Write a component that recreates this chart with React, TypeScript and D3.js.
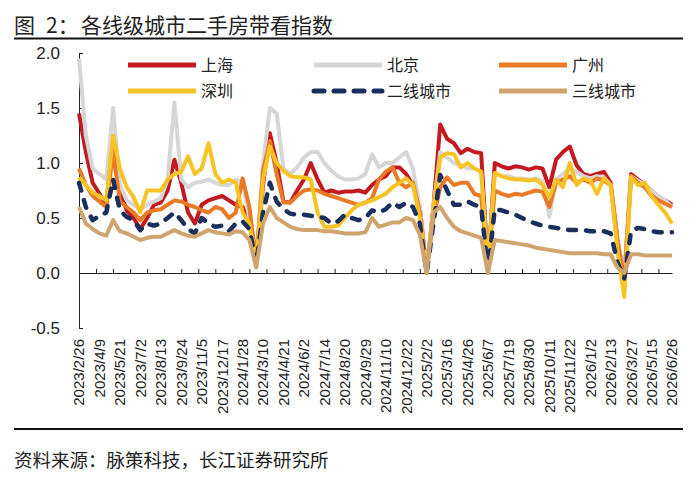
import React, { useRef, useEffect } from "react";
import * as d3 from "d3";

const tickLabels = [
  "2023/2/26", "2023/4/9", "2023/5/21", "2023/7/2", "2023/8/13", "2023/9/24",
  "2023/11/5", "2023/12/17", "2024/1/28", "2024/3/10", "2024/4/21", "2024/6/2",
  "2024/7/14", "2024/8/20", "2024/9/29", "2024/11/10", "2024/12/22", "2025/2/2",
  "2025/3/16", "2025/4/26", "2025/6/7", "2025/7/19", "2025/8/30", "2025/10/11",
  "2025/11/22", "2026/1/2", "2026/2/13", "2026/3/27", "2026/5/15", "2026/6/26",
];

const yTicks = [-0.5, 0, 0.5, 1.0, 1.5, 2.0];

const shanghai = [
  1.45, 1.1, 0.82, 0.72, 0.62, 1.2, 0.75, 0.57, 0.5, 0.4,
  0.5, 0.62, 0.64, 0.75, 1.03, 0.82, 0.55, 0.45, 0.62, 0.66,
  0.68, 0.7, 0.66, 0.62, 0.6, 0.45, 0.12, 0.8, 1.27, 1.0,
  0.65, 0.64, 0.75, 0.85, 1.0, 0.85, 0.73, 0.75, 0.73, 0.74,
  0.74, 0.75, 0.73, 0.8, 0.85, 0.88, 0.96, 0.96, 0.9, 0.8,
  0.6, 0.02, 0.6, 1.35, 1.22, 1.18, 1.09, 1.13, 1.1, 1.09,
  0.05, 1.0, 0.97, 0.95, 0.97, 0.96, 0.94, 0.96, 0.95, 0.78,
  1.03, 1.1, 1.15, 0.98, 0.9, 0.88, 0.9, 0.92, 0.82, 0.3,
  -0.05, 0.9, 0.85, 0.8, 0.75, 0.68, 0.66, 0.62,
];

const beijing = [
  1.95, 1.25, 0.95, 0.9, 0.85, 1.5, 0.8, 0.66, 0.62, 0.58,
  0.62, 0.65, 0.68, 0.85, 1.55, 0.85, 0.78, 0.82, 0.83, 0.85,
  0.82, 0.8, 0.8, 0.85, 0.82, 0.5, 0.1, 1.0, 1.5, 1.45,
  0.95, 0.9, 0.96, 1.05, 1.1, 1.1, 1.0, 0.93, 0.88, 0.85,
  0.85, 0.86, 0.9, 1.08, 0.96, 1.0, 1.0, 1.05, 1.1, 0.95,
  0.6, 0.02, 0.6, 1.1, 1.05, 1.0, 0.98, 0.95, 0.95, 0.92,
  0.05, 0.9, 0.88, 0.88, 0.86, 0.86, 0.85, 0.86, 0.84, 0.51,
  0.85, 0.9, 0.95, 0.92, 0.88, 0.86, 0.88, 0.87, 0.8, 0.3,
  -0.02, 0.88, 0.84, 0.8, 0.75, 0.7, 0.66, 0.6,
];

const guangzhou = [
  0.95, 0.8, 0.7, 0.65, 0.6, 1.1, 0.65, 0.6, 0.55, 0.48,
  0.55, 0.57, 0.58, 0.62, 0.66, 0.65, 0.62, 0.6, 0.57, 0.55,
  0.6, 0.58, 0.5, 0.55, 0.86, 0.6, 0.1, 0.93, 1.2, 0.9,
  0.64, 0.64, 0.7, 0.75, 0.76, 0.75, 0.72, 0.7, 0.68, 0.66,
  0.64, 0.62, 0.64, 0.68, 0.85, 0.92, 0.96, 0.82, 0.78, 0.82,
  0.55, 0.02, 0.5, 0.78, 0.87, 0.8, 0.82, 0.82, 0.72, 0.7,
  0.05, 0.75, 0.72, 0.7, 0.72, 0.71, 0.73, 0.75, 0.74, 0.6,
  0.82, 0.85, 0.88, 0.82, 0.85, 0.82, 0.86, 0.84, 0.8, 0.3,
  -0.08, 0.88, 0.82, 0.78, 0.7, 0.66, 0.63, 0.6,
];

const shenzhen = [
  0.87, 0.8, 0.73, 0.7, 0.66, 1.25, 0.95, 0.78, 0.69, 0.55,
  0.75, 0.75, 0.75, 0.85, 0.9, 0.92, 1.06, 0.9, 0.95, 1.18,
  0.9, 0.82, 0.85, 0.82, 0.55, 0.45, 0.08, 0.85, 1.15, 1.0,
  0.93, 0.88, 0.87, 0.87, 0.85, 0.55, 0.42, 0.42, 0.43, 0.5,
  0.57, 0.62, 0.64, 0.66, 0.69, 0.72, 0.78, 0.82, 0.86, 0.8,
  0.5, 0.0, 0.6, 1.05, 1.09, 1.08, 0.96, 1.0, 0.95, 0.92,
  0.05, 0.91, 0.88, 0.86, 0.85, 0.85, 0.84, 0.85, 0.8, 0.69,
  0.85, 0.78, 1.0, 0.8, 0.86, 0.84, 0.72, 0.86, 0.8, 0.2,
  -0.22, 0.87, 0.8, 0.82, 0.7, 0.62, 0.55, 0.45,
];

const tier2 = [
  0.82, 0.6, 0.48, 0.52, 0.55, 0.85, 0.57, 0.51, 0.48, 0.39,
  0.45, 0.43, 0.45, 0.5, 0.55, 0.48, 0.4, 0.36, 0.5, 0.45,
  0.42, 0.43, 0.38, 0.45, 0.47, 0.4, 0.08, 0.55, 0.82, 0.65,
  0.58, 0.54, 0.53, 0.53, 0.52, 0.51, 0.5, 0.45, 0.47, 0.53,
  0.5, 0.48, 0.5, 0.57, 0.55, 0.58, 0.64, 0.6, 0.64, 0.6,
  0.45, 0.0, 0.45, 0.89, 0.75, 0.62, 0.62, 0.65, 0.62, 0.6,
  0.02, 0.58, 0.57, 0.55, 0.53, 0.5, 0.47, 0.45, 0.43, 0.42,
  0.41, 0.4, 0.39, 0.39, 0.39, 0.38, 0.38, 0.38, 0.36, 0.1,
  -0.05, 0.38, 0.41, 0.4, 0.38, 0.37, 0.37, 0.37,
];

const tier3 = [
  0.6, 0.45, 0.4, 0.36, 0.34, 0.48, 0.38, 0.36, 0.33, 0.3,
  0.32, 0.33, 0.33, 0.36, 0.39, 0.36, 0.34, 0.33, 0.36, 0.39,
  0.37, 0.36, 0.35, 0.38, 0.37, 0.3, 0.05, 0.45, 0.6, 0.5,
  0.46, 0.42, 0.4, 0.39, 0.39, 0.39, 0.38, 0.38, 0.37, 0.36,
  0.36, 0.36, 0.37, 0.5, 0.42, 0.44, 0.46, 0.46, 0.5, 0.48,
  0.35, 0.0, 0.55, 0.6, 0.5, 0.42, 0.38, 0.36, 0.34, 0.32,
  0.0, 0.3, 0.29, 0.28, 0.27, 0.26, 0.25, 0.23, 0.22, 0.21,
  0.2, 0.19, 0.18, 0.18, 0.18, 0.18, 0.18, 0.17, 0.17, 0.05,
  0.0, 0.17, 0.17, 0.16, 0.16, 0.16, 0.16, 0.16,
];

interface Series {
  name: string;
  values: number[];
  color: string;
  dashed: boolean;
}

// legend order = drawing order (later ones on top)
const series: Series[] = [
  { name: "上海", values: shanghai, color: "#c3191f", dashed: false },
  { name: "北京", values: beijing, color: "#d6d6d6", dashed: false },
  { name: "广州", values: guangzhou, color: "#e97a26", dashed: false },
  { name: "深圳", values: shenzhen, color: "#f7c325", dashed: false },
  { name: "二线城市", values: tier2, color: "#1b2f5e", dashed: true },
  { name: "三线城市", values: tier3, color: "#cfa46e", dashed: false },
];

const W = 698;
const H = 477;
const NUM_FONT = "'Liberation Sans', Arial, sans-serif";
const CJK_FONT = "'Noto Sans CJK SC', 'Noto Sans', sans-serif";

const App: React.FC = () => {
  const gRef = useRef<SVGGElement | null>(null);

  useEffect(() => {
    if (!gRef.current) return;
    const g = d3.select(gRef.current);
    g.selectAll("*").remove();

    const lastWeek = (shanghai.length - 1) * 2;
    const x = d3.scaleLinear().domain([0, lastWeek]).range([79, 672]);
    const y = d3.scaleLinear().domain([-0.5, 2.0]).range([328, 53]);

    // title + rules
    const title = g
      .append("text")
      .attr("y", 33)
      .attr("font-family", CJK_FONT)
      .attr("font-size", 21)
      .attr("fill", "#222");
    title.append("tspan").attr("x", 14).text("图");
    title.append("tspan").attr("x", 46).text("2：");
    title.append("tspan").attr("x", 81).text("各线级城市二手房带看指数");

    g.append("line")
      .attr("x1", 14).attr("x2", 683)
      .attr("y1", 38.5).attr("y2", 38.5)
      .attr("stroke", "#111").attr("stroke-width", 2);
    g.append("line")
      .attr("x1", 14).attr("x2", 683)
      .attr("y1", 429).attr("y2", 429)
      .attr("stroke", "#111").attr("stroke-width", 2);

    g.append("text")
      .attr("x", 14)
      .attr("y", 467)
      .attr("font-family", CJK_FONT)
      .attr("font-size", 18.5)
      .attr("fill", "#222")
      .text("资料来源：脉策科技，长江证券研究所");

    // y axis: ticks inside, labels left
    const fmt = d3.format(".1f");
    const yAxis = d3
      .axisLeft(y)
      .tickValues(yTicks)
      .tickSizeInner(-4)
      .tickSizeOuter(-4)
      .tickPadding(19)
      .tickFormat((d) => fmt(d as number).replace("\u2212", "-"));
    const yg = g.append("g").attr("transform", "translate(79,0)").call(yAxis);
    yg.selectAll("path, line").attr("stroke", "#222");
    yg.selectAll("text")
      .attr("font-family", NUM_FONT)
      .attr("font-size", 17)
      .attr("fill", "#222");

    // x axis at zero, ticks every 5 weeks pointing up
    const xAxis = d3
      .axisTop(x)
      .tickValues(d3.range(0, lastWeek, 5))
      .tickSizeInner(4)
      .tickSizeOuter(0)
      .tickFormat(() => "");
    const xg = g.append("g").attr("transform", `translate(0,${y(0)})`).call(xAxis);
    xg.selectAll("path, line").attr("stroke", "#222");

    // rotated date labels below the plot
    g.append("g")
      .selectAll("text")
      .data(tickLabels)
      .join("text")
      .attr("transform", (d, i) => `translate(${x(i * 6)},339) rotate(-90)`)
      .attr("text-anchor", "end")
      .attr("dy", "0.36em")
      .attr("font-family", NUM_FONT)
      .attr("font-size", 15)
      .attr("fill", "#222")
      .text((d) => d);

    // lines
    const line = d3
      .line<number>()
      .x((d, i) => x(i * 2))
      .y((d) => y(d));

    g.append("g")
      .selectAll("path")
      .data(series)
      .join("path")
      .attr("d", (s) => line(s.values))
      .attr("fill", "none")
      .attr("stroke", (s) => s.color)
      .attr("stroke-width", (s) => (s.dashed ? 4.5 : 4))
      .attr("stroke-linejoin", "round")
      .attr("stroke-linecap", (s) => (s.dashed ? "round" : "butt"))
      .attr("stroke-dasharray", (s) => (s.dashed ? "8 10" : null));

    // legend, 3 columns x 2 rows
    const colX = [128, 314, 499];
    const rowY = [65, 91];
    const leg = g
      .append("g")
      .selectAll("g")
      .data(series)
      .join("g")
      .attr("transform", (s, i) => `translate(${colX[i % 3]},${rowY[Math.floor(i / 3)]})`);
    leg
      .append("line")
      .attr("x1", 0).attr("x2", 68)
      .attr("y1", 0).attr("y2", 0)
      .attr("stroke", (s) => s.color)
      .attr("stroke-width", 5)
      .attr("stroke-linecap", (s) => (s.dashed ? "round" : "butt"))
      .attr("stroke-dasharray", (s) => (s.dashed ? "10 10" : null));
    leg
      .append("text")
      .attr("x", 73)
      .attr("y", 6)
      .attr("font-family", CJK_FONT)
      .attr("font-size", 16)
      .attr("fill", "#222")
      .text((s) => s.name);
  }, []);

  return (
    <svg
      width={W}
      height={H}
      style={{ position: "absolute", left: 0, top: 0, background: "#fff" }}
    >
      <g ref={gRef} />
    </svg>
  );
};

export default App;
